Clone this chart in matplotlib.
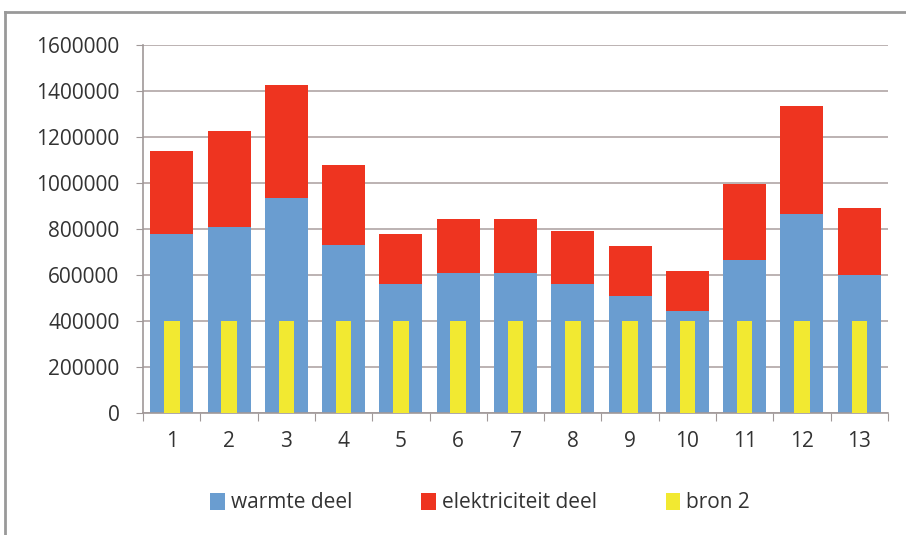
import matplotlib.pyplot as plt
from matplotlib.lines import Line2D

categories = [str(i) for i in range(1, 14)]
warmte = [777000, 809000, 936000, 732000, 559000, 609000, 609000,
          560000, 510000, 443000, 667000, 866000, 602000]
totaal = [1141000, 1225000, 1425000, 1076000, 777000, 842000, 842000,
          791000, 725000, 618000, 995000, 1336000, 892000]
elektriciteit = [t - w for t, w in zip(totaal, warmte)]
bron2 = [400000] * 13
y_ticks = [0, 200000, 400000, 600000, 800000, 1000000, 1200000, 1400000, 1600000]

plt.rcParams['font.family'] = ['Open Sans', 'DejaVu Sans']

fig = plt.figure(figsize=(9.06, 5.35), dpi=100)
ax = fig.add_axes([0.158, 0.228, 0.822, 0.688])

x = list(range(1, 14))
ax.bar(x, warmte, width=0.75, color='#6a9dd0', label='warmte deel', zorder=2)
ax.bar(x, elektriciteit, width=0.75, bottom=warmte, color='#ee3420',
       label='elektriciteit deel', zorder=2)
ax.bar(x, bron2, width=0.27, color='#f2e931', label='bron 2', zorder=3)

ax.set_xlim(0.5, 13.5)
ax.set_ylim(0, 1600000)
ax.set_yticks(y_ticks)
ax.set_yticklabels([str(v) for v in y_ticks], fontsize=15, color='#333333')
ax.yaxis.grid(True, color='#b0a6a6', linewidth=1.2, zorder=0)
ax.set_axisbelow(True)

# category labels in the middle, tick marks between categories
ax.set_xticks([i + 0.5 for i in range(0, 14)])
ax.set_xticklabels([])
ax.set_xticks(x, minor=True)
ax.set_xticklabels(categories, minor=True, fontsize=15, color='#333333')
ax.tick_params(axis='x', which='minor', length=0, pad=13)
ax.tick_params(axis='x', which='major', length=6, color='#a09898')
ax.tick_params(axis='y', length=5, color='#a09898', pad=12)

for s in ['top', 'right']:
    ax.spines[s].set_visible(False)
ax.spines['left'].set_color('#a09898')
ax.spines['bottom'].set_color('#a09898')
ax.spines['left'].set_linewidth(1.2)
ax.spines['bottom'].set_linewidth(1.2)

fig.legend(loc='center', bbox_to_anchor=(0.53, 0.06), ncol=3, frameon=False,
           fontsize=15, handlelength=0.7, handleheight=0.9, handletextpad=0.3,
           columnspacing=3.3, labelcolor='#333333')

# outer chart frame (top and left edge)
fig.add_artist(Line2D([5 / 906, 1], [1 - 12 / 535, 1 - 12 / 535],
                      color='#999999', linewidth=2, transform=fig.transFigure))
fig.add_artist(Line2D([5 / 906, 5 / 906], [0, 1 - 12 / 535],
                      color='#999999', linewidth=2, transform=fig.transFigure))

fig.savefig('out.png', dpi=100)
